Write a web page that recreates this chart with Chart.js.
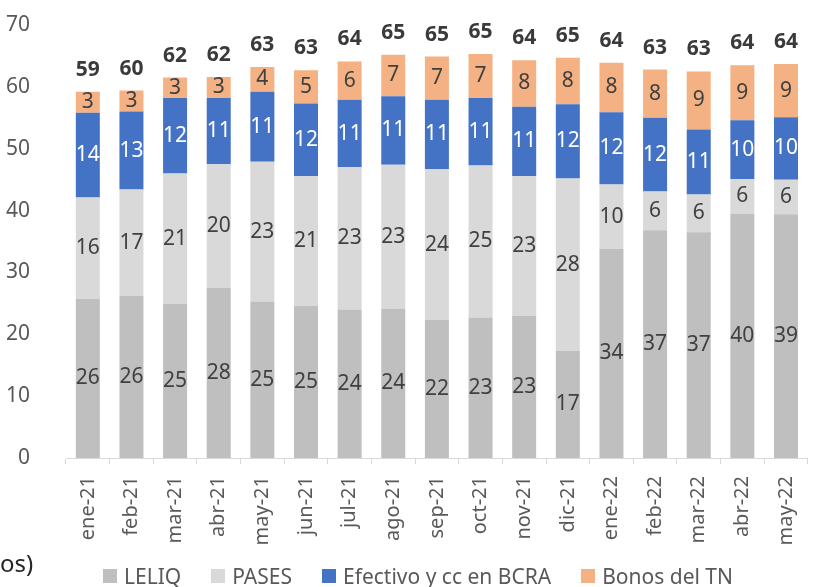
<!DOCTYPE html>
<html>
<head>
<meta charset="utf-8">
<script src="https://cdn.jsdelivr.net/npm/chart.js@4"></script>
<style>
  html, body { margin: 0; padding: 0; background: #fff; overflow: hidden; }
  #wrap { position: relative; width: 822px; height: 587px; }
  #note { position: absolute; left: 0; top: 546px; font: 24px "Noto Sans"; color: #262626; }
  #legend { position: absolute; left: 103px; top: 562px; display: flex; font: 21px "Noto Sans"; color: #595959; }
  #legend .item { display: flex; align-items: center; margin-right: 30px; line-height: 28px; }
  #legend .box { width: 14px; height: 14px; margin-right: 7px; }
</style>
</head>
<body>
<div id="wrap">
  <canvas id="chart" width="822" height="587"></canvas>
  <div id="note">os)</div>
  <div id="legend"></div>
</div>
<script>
// Categories (months)
const months = ['ene-21', 'feb-21', 'mar-21', 'abr-21', 'may-21', 'jun-21', 'jul-21', 'ago-21', 'sep-21',
    'oct-21', 'nov-21', 'dic-21', 'ene-22', 'feb-22', 'mar-22', 'abr-22', 'may-22'];

// Series values
const leliq    = [25.7, 26.2, 24.9, 27.5, 25.3, 24.6, 24.0, 24.1, 22.3, 22.7, 23.0, 17.3, 33.8, 36.8, 36.5, 39.5, 39.4];
const pases    = [16.4, 17.2, 21.1, 20.0, 22.6, 21.0, 23.0, 23.3, 24.4, 24.6, 22.6, 27.9, 10.4, 6.3, 6.1, 5.6, 5.6];
const efectivo = [13.7, 12.6, 12.2, 10.7, 11.3, 11.7, 10.9, 11.1, 11.2, 10.9, 11.2, 12.0, 11.7, 11.9, 10.5, 9.5, 10.1];
const bonos    = [3.4, 3.4, 3.3, 3.4, 4.0, 5.4, 6.2, 6.7, 7.0, 7.1, 7.5, 7.5, 8.0, 7.8, 9.4, 8.9, 8.6];

// Totals as printed above each bar
const totals = [59, 60, 62, 62, 63, 63, 64, 65, 65, 65, 64, 65, 64, 63, 63, 64, 64];

// Y axis ticks
const yTicks = [0, 10, 20, 30, 40, 50, 60, 70];

const seriesNames = ['LELIQ', 'PASES', 'Efectivo y cc en BCRA', 'Bonos del TN'];
const seriesColors = ['#bfbfbf', '#d9d9d9', '#4472c4', '#f4b183'];
const labelColors = ['#404040', '#404040', '#ffffff', '#404040'];

// Build the HTML legend
const legendDiv = document.getElementById('legend');
seriesNames.forEach(function(name, i) {
    var item = document.createElement('div');
    item.className = 'item';
    var box = document.createElement('span');
    box.className = 'box';
    box.style.background = seriesColors[i];
    item.appendChild(box);
    var txt = document.createElement('span');
    txt.innerText = name;
    item.appendChild(txt);
    legendDiv.appendChild(item);
});

// Plugin that writes the values inside the bars and the totals on top
const valueLabels = {
    id: 'valueLabels',
    afterDatasetsDraw(chart) {
        const ctx = chart.ctx;
        ctx.save();
        ctx.textAlign = 'center';
        ctx.textBaseline = 'middle';
        chart.data.datasets.forEach(function(ds, di) {
            const meta = chart.getDatasetMeta(di);
            ctx.font = '21px "Noto Sans"';
            ctx.fillStyle = labelColors[di];
            meta.data.forEach(function(bar, i) {
                const mid = (bar.y + bar.base) / 2;
                ctx.fillText(Math.round(ds.data[i]), bar.x, mid);
            });
        });
        const topMeta = chart.getDatasetMeta(chart.data.datasets.length - 1);
        ctx.font = 'bold 21px "Noto Sans"';
        ctx.fillStyle = '#3a3a3a';
        topMeta.data.forEach(function(bar, i) {
            ctx.fillText(totals[i], bar.x, bar.y - 22);
        });
        ctx.restore();
    }
};

const seriesData = [leliq, pases, efectivo, bonos];

new Chart(document.getElementById('chart').getContext('2d'), {
    type: 'bar',
    data: {
        labels: months,
        datasets: seriesNames.map(function(name, i) {
            return {
                label: name,
                data: seriesData[i],
                backgroundColor: seriesColors[i],
                borderWidth: 0,
                categoryPercentage: 1,
                barPercentage: 0.55
            };
        })
    },
    options: {
        responsive: false,
        animation: false,
        devicePixelRatio: 1,
        layout: { padding: { top: 25, right: 0, bottom: 0, left: 0 } },
        plugins: {
            legend: { display: false },
            tooltip: { enabled: false }
        },
        scales: {
            x: {
                stacked: true,
                grid: { display: true, drawOnChartArea: false, drawTicks: true, tickLength: 6, color: '#d9d9d9' },
                border: { display: true, color: '#d9d9d9', width: 1 },
                ticks: {
                    minRotation: 90,
                    maxRotation: 90,
                    padding: 12,
                    color: '#595959',
                    font: { family: 'Noto Sans', size: 20 }
                },
                afterFit: function(scale) {
                    scale.height = 129;
                    scale.paddingTop = 0;
                    scale.paddingBottom = 0;
                }
            },
            y: {
                stacked: true,
                min: 0,
                max: 70,
                grid: { display: false },
                border: { display: false },
                afterBuildTicks: function(scale) {
                    scale.ticks = yTicks.map(v => ({ value: v }));
                },
                ticks: {
                    padding: 28,
                    color: '#595959',
                    font: { family: 'Noto Sans', size: 21 }
                },
                afterFit: function(scale) {
                    scale.width = 66;
                    scale.paddingTop = 0;
                    scale.paddingBottom = 0;
                }
            }
        }
    },
    plugins: [valueLabels]
});
</script>
</body>
</html>
